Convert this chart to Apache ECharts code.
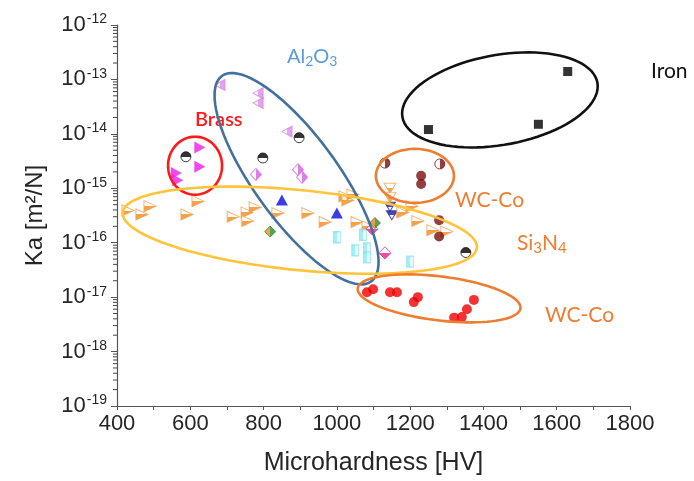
<!DOCTYPE html>
<html>
<head>
<meta charset="utf-8">
<script src="https://cdn.jsdelivr.net/npm/echarts@6/dist/echarts.min.js"></script>
<style>html,body{margin:0;padding:0;background:#fff}#c{width:694px;height:481px}</style>
</head>
<body>
<div id="c"></div>
<script>
// ---- data (Microhardness [HV], Ka [m^2/N]) ----
const xTicks = [400, 600, 800, 1000, 1200, 1400, 1600, 1800];
const iron = [[1250, 1.2e-14], [1550, 1.5e-14], [1630, 1.4e-13]];
const brass = [[626, 5.6e-15], [626, 2.5e-15], [562, 1.9e-15], [566, 1.4e-15]];
const halfBlack = [[588, 3.8e-15], [798, 3.6e-15], [897, 8.5e-15], [1352, 6.6e-17]];
const violetTri = [[681, 7.9e-14], [785, 5.6e-14], [785, 3.7e-14], [864, 1.1e-14]];
const violetDiamond = [[779, 1.8e-15], [894, 2.2e-15], [905, 1.6e-15]];
const blueTri = [[850, 6.1e-16], [1000, 3.5e-16]];
const navyTri = [[1145, 4.6e-16], [1150, 3.2e-16]];
const orangeTri = [[430, 3.9e-16], [468, 3.3e-16], [490, 4.7e-16], [591, 3.3e-16], [621, 5.8e-16],
  [717, 3.0e-16], [755, 3.6e-16], [757, 2.5e-16], [777, 4.5e-16], [839, 3.5e-16], [921, 3.5e-16],
  [968, 2.4e-16], [1022, 7.1e-16], [1030, 6.0e-16], [1044, 7.7e-16], [1055, 2.4e-16], [1085, 2.0e-16],
  [1180, 3.6e-16], [1205, 4.7e-16], [1221, 2.5e-16], [1262, 1.7e-16], [1300, 1.6e-16]];
const orangeDown = [[1145, 1.0e-15], [1145, 6.8e-16]];
const maroon = [[1230, 1.7e-15], [1230, 1.2e-15], [1279, 2.6e-16], [1279, 1.3e-16]];
const maroonHalf = [[1131, 2.9e-15], [1281, 2.8e-15]];
const redWC = [[1082, 1.23e-17], [1099, 1.4e-17], [1145, 1.23e-17], [1164, 1.23e-17], [1210, 8.1e-18],
  [1221, 1.0e-17], [1320, 4.2e-18], [1341, 4.3e-18], [1355, 6.0e-18], [1374, 8.9e-18]];
const cyanSq = [[1000, 1.26e-16], [1071, 1.4e-16], [1050, 7.2e-17], [1082, 7.9e-17], [1082, 5.4e-17], [1200, 4.5e-17]];
const pinkDiamond = [[1131, 6.5e-17], [1096, 1.8e-16]];
const greenDiamond = [[818, 1.6e-16], [1104, 2.3e-16]];

// ---- annotation ellipses (centre in data units, radii in px) ----
const ellipses = [
  {x: 1445, y: 4.2e-14, rx: 99, ry: 45, rot: 10, color: '#111111'},
  {x: 890, y: 1.5e-15, rx: 127, ry: 42, rot: -54, color: '#41719c'},
  {x: 613, y: 2.6e-15, rx: 27, ry: 29, rot: 0, color: '#ff1a1a'},
  {x: 1213, y: 1.69e-15, rx: 39, ry: 27, rot: 0, color: '#ed7d31'},
  {x: 899, y: 1.7e-16, rx: 178, ry: 40, rot: -5.7, color: '#ffc43a'},
  {x: 1279, y: 9.5e-18, rx: 82, ry: 22, rot: -7, color: '#ed7d31'}
];
const minorY = [];
for (let k = -19; k < -12; k++) for (let m = 2; m <= 9; m++) minorY.push(m * Math.pow(10, k));

function grad(c1, c2, horizontal) {
  return {type: 'linear', x: 0, y: 0, x2: horizontal ? 1 : 0, y2: horizontal ? 0 : 1,
    colorStops: [{offset: 0, color: c1}, {offset: 0.5, color: c1}, {offset: 0.5, color: c2}, {offset: 1, color: c2}]};
}
const P = {
  right: 'path://M0,0L10,5L0,10Z',
  left: 'path://M10,0L0,5L10,10Z',
  down: 'path://M0,0L10,0L5,10Z'
};
function sc(data, symbol, size, style, z) {
  return {type: 'scatter', data: data, symbol: symbol, symbolSize: size, itemStyle: style, z: z || 3,
    emphasis: {disabled: true}, silent: true};
}

const chart = echarts.init(document.getElementById('c'), null, {renderer: 'canvas'});
const font = 'Liberation Sans, Arial, sans-serif';
const annFont = 'Lato, Open Sans, sans-serif';
chart.setOption({
  animation: false,
  backgroundColor: '#fff',
  grid: {left: 117, right: 64, top: 25, bottom: 74},
  xAxis: {
    type: 'value', min: xTicks[0], max: xTicks[xTicks.length - 1], interval: 200,
    name: 'Microhardness [HV]', nameLocation: 'middle', nameGap: 45,
    nameTextStyle: {fontFamily: font, fontSize: 25, color: '#262626'},
    axisLine: {show: true, lineStyle: {color: '#555', width: 1.2}},
    axisTick: {show: true, length: 4, lineStyle: {color: '#555'}},
    minorTick: {show: true, splitNumber: 2, length: 4, lineStyle: {color: '#555'}},
    splitLine: {show: false},
    axisLabel: {fontFamily: font, fontSize: 22, color: '#262626', margin: 7, formatter: v => String(v)}
  },
  yAxis: {
    type: 'log', logBase: 10, min: 1e-19, max: 1e-12,
    name: 'Ka [m²/N]', nameLocation: 'middle', nameGap: 70,
    nameTextStyle: {fontFamily: font, fontSize: 24, color: '#262626'},
    axisLine: {show: true, lineStyle: {color: '#555', width: 1.2}},
    axisTick: {show: true, length: 6, lineStyle: {color: '#555'}},
    splitLine: {show: false},
    axisLabel: {
      margin: 10,
      formatter: v => '10{sup|' + Math.round(Math.log10(v)) + '}',
      rich: {sup: {fontFamily: font, fontSize: 14, color: '#262626', verticalAlign: 'top', padding: [0, 0, 11, 1]}},
      fontFamily: font, fontSize: 22, color: '#262626'
    }
  },
  series: [
    {
      type: 'custom', clip: false, silent: true, z: 6,
      data: minorY.map(v => [400, v]),
      renderItem: (params, api) => {
        const p = api.coord([400, minorY[params.dataIndex]]);
        return {type: 'line', shape: {x1: p[0] - 4, y1: p[1], x2: p[0], y2: p[1]}, style: {stroke: '#444', lineWidth: 1, fill: null}};
      }
    },
    sc(iron, 'rect', 9, {color: '#000'}),
    sc(brass, P.right, [11, 12], {color: '#ee1cee'}),
    sc(halfBlack, 'circle', 10, {color: grad('#000', '#fff', false), borderColor: '#111', borderWidth: 1}),
    sc(violetTri, P.left, [10, 11], {color: grad('#fff', '#dc8ee6', true), borderColor: '#d77fe4', borderWidth: 1}),
    sc(violetDiamond, 'diamond', [11, 12], {color: grad('#fff', '#d45fe0', true), borderColor: '#d070e0', borderWidth: 1}),
    sc(blueTri, 'triangle', [12, 11], {color: '#0a0ae6'}),
    sc(navyTri, P.down, [11, 9], {color: grad('#1a1aa0', '#fff', false), borderColor: '#2a2ab0', borderWidth: 1}),
    sc(orangeTri, P.right, [12, 11], {color: grad('#fff', '#f28a1e', false), borderColor: '#f3a354', borderWidth: 1}),
    sc(orangeDown, P.down, [12, 10], {color: grad('#fff', '#f28a1e', false), borderColor: '#f3a354', borderWidth: 1}),
    sc(maroon, 'circle', 10, {color: '#7a0f0f'}),
    sc(maroonHalf, 'circle', 10, {color: grad('#fff', '#7a0f0f', true), borderColor: '#7a0f0f', borderWidth: 1}),
    sc(redWC, 'circle', 10, {color: '#f00000'}),
    sc(cyanSq, 'rect', [7, 11], {color: grad('#8ee9f2', '#dff8fb', true), borderColor: '#86e2ee', borderWidth: 1}),
    sc(pinkDiamond, 'diamond', [12, 12], {color: grad('#fff', '#e8258f', false), borderColor: '#e8258f', borderWidth: 1}),
    sc(greenDiamond, 'diamond', [11, 11], {color: grad('#f28a1e', '#2e8b2e', true), borderColor: '#2e8b2e', borderWidth: 1}),
    {
      type: 'custom', clip: false, silent: true, z: 5,
      data: ellipses.map(e => [e.x, e.y]),
      renderItem: (params, api) => {
        const e = ellipses[params.dataIndex];
        const c = api.coord([e.x, e.y]);
        const a = -e.rot * Math.PI / 180;
        const pts = [];
        for (let i = 0; i < 90; i++) {
          const t = i / 90 * Math.PI * 2;
          const ex = e.rx * Math.cos(t), ey = e.ry * Math.sin(t);
          pts.push([c[0] + ex * Math.cos(a) - ey * Math.sin(a), c[1] + ex * Math.sin(a) + ey * Math.cos(a)]);
        }
        return {type: 'polygon', shape: {points: pts}, style: {fill: 'none', stroke: e.color, lineWidth: 2.6}};
      }
    }
  ],
  graphic: [
    {type: 'text', left: 651, top: 61, style: {text: 'Iron', fontFamily: annFont, fontSize: 21, fill: '#111'}},
    {type: 'text', left: 195, top: 110, style: {text: 'Brass', fontFamily: annFont, fontSize: 20, fontWeight: 600, fill: '#ff1a1a'}},
    {type: 'text', left: 287, top: 47, style: {text: 'Al{s|2}O{s|3}', fontFamily: annFont, fontSize: 20, fill: '#5b9bd5',
      rich: {s: {fontFamily: annFont, fontSize: 14, fill: '#5b9bd5', padding: [9, 0, 0, 0]}}}},
    {type: 'text', left: 455, top: 190, style: {text: 'WC-Co', fontFamily: annFont, fontSize: 21, fill: '#ed7d31'}},
    {type: 'text', left: 517, top: 233, style: {text: 'Si{s|3}N{s|4}', fontFamily: annFont, fontSize: 21, fill: '#ed7d31',
      rich: {s: {fontFamily: annFont, fontSize: 15, fill: '#ed7d31', padding: [9, 0, 0, 0]}}}},
    {type: 'text', left: 545, top: 305, style: {text: 'WC-Co', fontFamily: annFont, fontSize: 21, fill: '#ed7d31'}}
  ]
});
</script>
</body>
</html>
